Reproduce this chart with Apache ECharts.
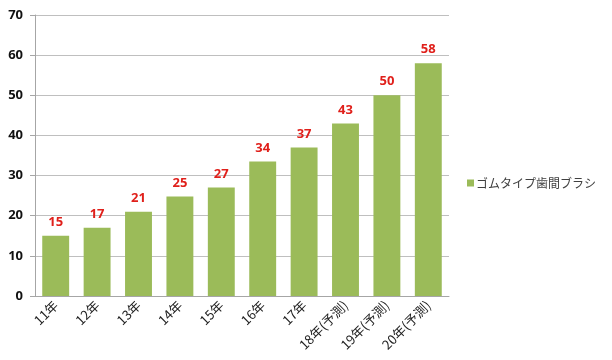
<!DOCTYPE html>
<html><head><meta charset="utf-8">
<script src="https://cdn.jsdelivr.net/npm/echarts@6/dist/echarts.min.js"></script>
<style>html,body{margin:0;padding:0;background:#fff}#c{width:612px;height:360px}</style>
</head><body><div id="c"></div>
<script>
const categories = ['11年','12年','13年','14年','15年','16年','17年','18年(予測)','19年(予測)','20年(予測)'];
const values = [15, 17, 21, 24.8, 27, 33.5, 37, 43, 50, 58];
const seriesName = 'ゴムタイプ歯間ブラシ';
const yTicks = [0, 10, 20, 30, 40, 50, 60, 70];

const chart = echarts.init(document.getElementById('c'));
chart.setOption({
  animation: false,
  grid: { left: 35, right: 163, top: 15, bottom: 64 },
  legend: {
    orient: 'vertical', left: 462, top: 172,
    itemWidth: 7, itemHeight: 7, itemGap: 4,
    icon: 'rect',
    textStyle: { fontFamily: 'Noto Sans CJK JP', fontSize: 12, color: '#404040', padding: [0, 0, 0, -3] },
    data: [seriesName]
  },
  xAxis: {
    type: 'category', data: categories,
    axisLine: { lineStyle: { color: '#a6a6a6' } },
    axisTick: { show: false },
    axisLabel: { rotate: 45, interval: 0, margin: 7, fontFamily: 'Noto Sans CJK JP', fontSize: 13, color: '#222' }
  },
  yAxis: {
    type: 'value', min: yTicks[0], max: yTicks[yTicks.length - 1], interval: 10,
    axisLine: { show: true, lineStyle: { color: '#a6a6a6' } },
    axisTick: { show: true, length: 5, lineStyle: { color: '#a6a6a6' } },
    splitLine: { lineStyle: { color: '#bfbfbf' } },
    axisLabel: { margin: 12, fontFamily: 'Open Sans', fontWeight: 'bold', fontSize: 13, color: '#111' }
  },
  series: [{
    name: seriesName, type: 'bar', data: values, barWidth: '65%',
    itemStyle: { color: '#9BBB59' },
    label: {
      show: true, position: 'top', distance: 7,
      formatter: p => Math.round(p.value),
      fontFamily: 'Open Sans', fontWeight: 'bold', fontSize: 13, color: '#e0201b'
    }
  }]
});
</script></body></html>
